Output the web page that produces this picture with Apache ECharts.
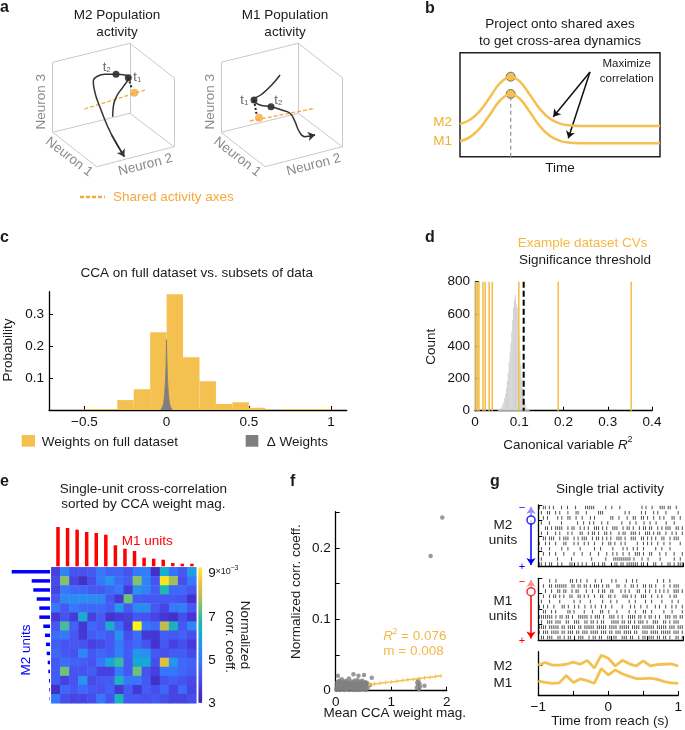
<!DOCTYPE html>
<html lang="en">
<head>
<meta charset="UTF-8">
<title>Cross-area CCA figure</title>
<style>
  * { margin: 0; padding: 0; }
  body { background: #ffffff; }
  #chart { width: 685px; height: 730px; }
</style>
</head>
<body>
<div id="chart"></div>
<script src="https://cdn.jsdelivr.net/npm/echarts@6/dist/echarts.min.js"></script>
<script>
var FONT = 'Liberation Sans';
var YELLOW = '#f4c150';
var ORANGE = '#f6a93b';

// ---- panel a: schematic, page pixel coords ----
var cubeEdges = [
  [[130, 43.3], [130, 113.3]],
  [[52.7, 62.3], [130, 43.3]], [[52.7, 62.3], [52.7, 132.3]], [[52.7, 132.3], [130, 113.3]],
  [[130, 43.3], [174, 77.7]], [[174, 77.7], [174, 146.7]], [[130, 113.3], [174, 146.7]],
  [[52.7, 132.3], [96.7, 166.7]], [[96.7, 166.7], [174, 146.7]]
];
var cubeShift = 168.3;
var trajM2 = [[112.7, 116.7], [113.3, 106.7], [117.3, 95], [123.3, 86.7], [128.3, 77.7], [125, 75], [116, 74.3],
  [105, 74.3], [96.7, 76.7], [93.3, 81], [94, 88.3], [101.7, 111.7], [111.7, 135], [124.3, 156.7]];
var trajM1 = [[280, 75], [271.7, 85], [261.7, 94.3], [254, 100], [260, 105], [271, 106.7], [281.7, 110],
  [290, 113.3], [295, 121.7], [299.3, 131.7], [305, 136.7], [310, 136], [315, 135]];
var timeDots = [[128.3, 77.7], [116, 74.3], [254, 100], [271, 106.7]];
var projDots = [[134.3, 92.7], [259, 117.7]];
var dropM2 = [[128.3, 77.7], [131.7, 88.3]];
var dropM1 = [[254, 100], [256.7, 115]];
var sharedM2 = [[84.3, 109], [145, 90]];
var sharedM1 = [[250, 121], [315, 108.3]];
var sharedKey = [[80, 197], [105, 197]];

// ---- panel b ----
var bTime = [0, 10, 20, 30, 40, 50.7, 60, 70, 80, 90, 100, 110, 120, 200];
var bM2 = [32.7, 36.9, 45.9, 59.5, 73.5, 80, 75, 61.7, 47.6, 37.9, 33.1, 31.3, 30.8, 30.7];
var bM1 = [15.4, 19.6, 28.6, 42.2, 56.2, 62.7, 57.7, 44.4, 30.3, 20.6, 15.8, 14, 13.5, 13.4];
var bPeakT = 50.7;

// ---- panel c ----
var cBinLeft = [-0.5, -0.4, -0.3, -0.2, -0.1, 0, 0.1, 0.2, 0.3, 0.4, 0.5, 0.7, 0.8, 0.9];
var cProb = [0.003, 0.003, 0.031, 0.065, 0.243, 0.362, 0.165, 0.09, 0.019, 0.024, 0.007, 0.003, 0.003, 0.003];
var cBinWidth = 0.1;
var deltaX = [-0.035, -0.025, -0.018, -0.012, -0.006, -0.003, -0.001, 0.001, 0.003, 0.006, 0.012, 0.018, 0.025, 0.035];
var deltaP = [0, 0.01, 0.02, 0.05, 0.1, 0.15, 0.22, 0.22, 0.14, 0.09, 0.045, 0.02, 0.008, 0];

// ---- panel d ----
var dBinStart = 0.05, dBinWidth = 0.002;
var dCounts = [2, 4, 8, 12, 18, 28, 40, 55, 78, 105, 140, 185, 235, 300, 360, 420, 490, 560, 640, 690,
  720, 660, 640, 560, 470, 370, 280, 200, 140, 95, 60, 38, 22, 12, 7, 4, 2];
var dCVs = [0.002, 0.006, 0.009, 0.018, 0.023, 0.032, 0.039, 0.099, 0.188, 0.353];
var dThreshold = 0.11;

// ---- panel e ----
var m1Weights = [39.3, 38.3, 36.6, 34.3, 33.3, 31.6, 21, 17.6, 15.3, 8.6, 7.6, 6.6, 3.3, 2.6, 2.6];
var m2Weights = [38.3, 18.3, 16.7, 13.3, 10.7, 10.7, 6.7, 5, 4, 3.3, 2.3, 1.7, 1, 0.7, 0.4];
var corr = [
  [3.8, 5.2, 4.2, 4.2, 4.3, 4.9, 4.5, 4.5, 4.2, 5.0, 5.1, 3.4, 6.3, 4.8, 4.3, 5.8],
  [4.0, 7.6, 3.9, 3.4, 4.1, 5.0, 5.6, 4.7, 4.4, 7.6, 5.2, 4.2, 9.1, 7.8, 4.1, 5.0],
  [3.9, 4.9, 4.6, 4.6, 4.3, 4.3, 4.6, 4.9, 3.7, 5.6, 5.2, 4.4, 6.8, 4.6, 4.6, 4.3],
  [4.3, 5.4, 5.4, 5.5, 5.4, 5.4, 4.3, 3.6, 7.4, 4.4, 4.3, 4.3, 4.3, 4.3, 4.2, 3.5],
  [4.9, 4.3, 4.9, 4.6, 4.6, 4.6, 4.4, 5.7, 4.3, 5.4, 5.4, 4.3, 3.9, 4.9, 5.1, 4.3],
  [3.6, 4.2, 3.7, 6.3, 3.8, 4.4, 3.5, 3.7, 3.8, 4.3, 4.2, 3.9, 3.6, 3.4, 4.1, 3.6],
  [4.3, 7.1, 4.5, 3.6, 4.6, 4.3, 6.4, 4.6, 3.7, 9.3, 4.9, 4.6, 8.0, 6.5, 4.3, 5.3],
  [4.7, 4.9, 4.3, 3.6, 4.4, 4.6, 4.3, 5.5, 4.1, 4.7, 3.6, 3.6, 4.4, 4.3, 4.5, 4.1],
  [4.4, 4.2, 4.3, 4.2, 3.8, 4.0, 4.3, 5.0, 4.3, 4.6, 4.2, 3.5, 4.3, 3.8, 4.1, 3.7],
  [4.6, 4.3, 4.2, 5.3, 4.3, 4.6, 4.4, 5.1, 4.4, 5.6, 5.5, 4.3, 4.1, 4.4, 4.4, 4.0],
  [4.3, 4.7, 4.5, 4.4, 4.2, 4.9, 6.1, 7.0, 4.3, 6.2, 6.2, 4.1, 8.4, 5.7, 4.6, 4.5],
  [4.4, 7.4, 4.2, 4.2, 4.4, 3.8, 3.8, 5.0, 4.3, 7.4, 4.2, 3.8, 4.9, 4.9, 4.6, 4.4],
  [4.4, 3.8, 4.2, 5.6, 4.0, 4.3, 4.4, 6.6, 4.9, 4.9, 4.3, 3.4, 4.2, 4.4, 4.2, 4.0],
  [3.4, 4.6, 4.3, 4.6, 4.3, 4.2, 4.5, 3.6, 4.4, 3.6, 4.4, 4.1, 4.6, 3.9, 4.6, 3.9],
  [4.9, 4.1, 3.9, 3.9, 4.1, 4.9, 4.2, 6.6, 4.3, 4.3, 4.2, 4.3, 4.1, 3.9, 3.9, 4.1]
];
var parula = ['#3e26a8', '#4538d8', '#4756f2', '#3677fb', '#2a90ef', '#16a8d8', '#1fb8b2', '#6cc27a', '#c4bd4a', '#fbc036', '#f9f617'];

// ---- panel f ----
var fPoints = [
  [0.01, 0.002], [0.02, 0.008], [0.03, 0.012], [0.04, 0.021], [0.05, 0.004], [0.06, 0.010], [0.07, 0.014], [0.08, 0.001],
  [0.09, 0.006], [0.10, 0.011], [0.11, 0.016], [0.12, 0.003], [0.13, 0.009], [0.14, 0.013], [0.15, 0.005], [0.16, 0.001],
  [0.17, 0.011], [0.18, 0.007], [0.19, 0.014], [0.20, 0.003], [0.21, 0.009], [0.22, 0.012], [0.23, 0.005], [0.24, 0.017],
  [0.25, 0.001], [0.26, 0.010], [0.27, 0.007], [0.28, 0.013], [0.29, 0.004], [0.30, 0.011], [0.31, 0.002], [0.32, 0.023],
  [0.33, 0.008], [0.34, 0.014], [0.35, 0.005], [0.36, 0.012], [0.37, 0.001], [0.38, 0.009], [0.39, 0.015], [0.40, 0.004],
  [0.41, 0.021], [0.42, 0.010], [0.43, 0.006], [0.44, 0.013], [0.45, 0.002], [0.46, 0.011], [0.47, 0.007], [0.48, 0.014],
  [0.49, 0.003], [0.50, 0.010], [0.51, 0.022], [0.52, 0.005], [0.53, 0.012], [0.54, 0.001], [0.55, 0.008], [0.56, 0.011],
  [0.57, 0.003], [0.58, 0.006], [0.02, 0.001], [0.05, 0.013], [0.08, 0.009], [0.12, 0.007], [0.15, 0.012], [0.18, 0.002],
  [0.22, 0.006], [0.26, 0.004], [0.29, 0.009], [0.33, 0.001], [0.36, 0.006], [0.40, 0.009], [0.43, 0.001], [0.47, 0.012],
  [0.50, 0.006], [0.54, 0.010], [0.57, 0.009], [0.03, 0.005], [0.10, 0.003], [0.20, 0.010], [0.31, 0.006], [0.38, 0.003],
  [0.45, 0.008], [0.52, 0.002], [0.62, 0.008], [0.65, 0.018], [1.46, 0.004], [1.47, 0.012], [1.48, 0.008], [1.49, 0.015],
  [1.50, 0.002], [1.51, 0.010], [1.52, 0.006], [1.60, 0.007], [1.71, 0.189], [1.92, 0.243]
];
var fitX = [0.6, 0.7, 0.8, 0.9, 1.0, 1.1, 1.2, 1.3, 1.4, 1.5, 1.6, 1.7, 1.8, 1.9];
var fitY = [0.0085, 0.0095, 0.0104, 0.0114, 0.0123, 0.0133, 0.0142, 0.0152, 0.0161, 0.0171, 0.018, 0.019, 0.0199, 0.0209];

// ---- panel g ----
var traceT = [-1, -0.9, -0.8, -0.7, -0.6, -0.5, -0.4, -0.3, -0.2, -0.1, 0, 0.1, 0.2, 0.3, 0.4, 0.5, 0.6, 0.7, 0.8, 0.9, 1];
var m2Trace = [0.69, 0.75, 0.69, 0.69, 0.71, 0.76, 0.71, 0.8, 0.62, 0.92, 0.85, 0.67, 0.8, 0.72, 0.67, 0.79, 0.67, 0.7, 0.71, 0.72, 0.67];
var m1Trace = [0.32, 0.29, 0.27, 0.28, 0.45, 0.29, 0.37, 0.33, 0.27, 0.61, 0.46, 0.58, 0.49, 0.43, 0.38, 0.38, 0.39, 0.36, 0.31, 0.28, 0.27];
var m2Raster = [
  '|.||.|.|...|..|...|....|||||.....|..|...|..........|.|..|...|||.||..|...',
  '.|..||..|.|...|...||...|.....|||..........|.|.....|.|...|.|...|.....|..',
  '..|.|....|.|..||..|..|...|.|.......||..|...|..||..||.|..|..|.|...||..|.',
  '.|...|.....|.......|..|..|.|...|..|......|...|..|...|..|..|....|...|....',
  '...||.|.||||..|.||..|.|.|..|||.|.|..|||..|.||.|..|.||.||..|.|.|||..||.|',
  '.|..|...|.|...|.|...||..|.||.|..||.|...|.||..|||.|..|||.|.||..|..|.|..|',
  '..||.|||..|.|||..|.|.|||..|.||.|.|.|..|||.|..|||..||.|.|.|..||..|.|||..',
  '|..|.|..|...||...|.|..|.|..|...|..||.|..|.|.....|..|.|.|..|..|..|....|.',
  '.|...|.....|..|.....|......|..|.....|....|.|..|.|..|.....|..|...|......',
  '..|..|..|...|....|...|...|...|...|..|.|..|..|..|||.|..||...|..|...|...|',
  '.|.......|......|.........|......|...|||||||||.|...|..|.....|......|..|.',
  '||.|.||..|.|...||..|.|.|..||.|.||....||.||.||||||.||.|..||..|..||.|.|||'
];
var m1Raster = [
  '.....|..|......||.|.|..|...|..|....|.|....|..|.|.........|..|..|......',
  '..|..||.||||||..||.||.||.|.|||.|.||...||..|..||.|..||.||.|...|..|.|||..',
  '...|..|..||.||..|.||...|..|..|.||..||...|.|.|...||..|.|..|.|.|.|..|||.|',
  '..|..|.||.|.|..||..||.|.|..|..||..||.|...|||.|.|..|||..|..|.|...|.||...',
  '.|...|....|......|..|....|.....|...|..|.....|..|....|..|....|....|..|..',
  '|.|.|..|...||.|..|.|..|..|.|..|.|..|....|...|.|..|..|...|.|..|..|.|..|',
  '..||..|.|.....||.|....|...|...||..|...|.....|..|...||..|.....|...|....|',
  '|||||||.|.||.||.|..|||||.|.|||.|..|||.|.|..||||.||.|.||.|.|..|||.||.||',
  '.|..|||.|||..||..|||..||.||.|.||...||||.||.||.|.|||.|..|||..||.|.|||..',
  '||||.|||||.||.||||.||.|||||.|||||.||||.|||||.||||.||||||.|||||.|||.|||',
  '|.|||.||||.||.|||.||.|||.||||.|||.||.|||.||||.||..|||.||||.|||||.|||.|',
  '.||.|||..||.|.||.|.|||..|.||.||..||.||..|||.||..|.||.|||.||.||.|..||.|'
];

// ---------- helpers ----------
function merge(a, b) {
  for (var k in b) {
    if (b[k] && typeof b[k] === 'object' && !Array.isArray(b[k]) && a[k] && typeof a[k] === 'object') merge(a[k], b[k]);
    else a[k] = b[k];
  }
  return a;
}
function valAxis(g, min, max, extra) {
  return merge({
    type: 'value', gridIndex: g, min: min, max: max,
    axisLine: { show: true, onZero: false, lineStyle: { color: '#000', width: 1.3 } },
    axisTick: { show: true, inside: true, length: 4, lineStyle: { color: '#000', width: 1 } },
    axisLabel: { show: true, color: '#111', fontSize: 13.5, fontFamily: FONT, margin: 5 },
    splitLine: { show: false }
  }, extra || {});
}
function hidden(g, type, extra) {
  return merge({ type: type, gridIndex: g, show: false }, extra || {});
}
function minus(v) { return String(v).replace('-', '\u2212'); }
function zip(xs, ys) { return xs.map(function (x, i) { return [x, ys[i]]; }); }
function rasterPoints(rows) {
  var pts = [];
  rows.forEach(function (s, r) {
    for (var i = 0; i < s.length; i++) {
      if (s[i] === '|') pts.push([-1 + (i + 0.5) * 2 / s.length, rows.length - 0.5 - r]);
    }
  });
  return pts;
}
function T(x, y, text, o) {
  o = o || {};
  return {
    type: 'text', x: x, y: y, rotation: o.rot || 0, z: 100,
    style: {
      text: text, fill: o.color || '#1a1a1a', fontSize: o.size || 13.5, fontFamily: FONT,
      fontWeight: o.weight || 'normal', fontStyle: o.italic ? 'italic' : 'normal',
      align: o.align || 'center', verticalAlign: 'middle', rich: o.rich
    }
  };
}
function segs(list, color, width, extra) {
  return merge({
    type: 'lines', coordinateSystem: 'cartesian2d', xAxisIndex: 0, yAxisIndex: 0, silent: true,
    lineStyle: { color: color, width: width, opacity: 1 },
    data: list.map(function (s) { return { coords: s }; })
  }, extra || {});
}
function sketchLine(pts, color, width, type, smooth) {
  return {
    type: 'line', xAxisIndex: 0, yAxisIndex: 0, data: pts, smooth: smooth || false, symbol: 'none', silent: true,
    lineStyle: { color: color, width: width, type: type || 'solid' }
  };
}

// ---------- grids & axes ----------
var grids = [
  { left: 0, top: 0, width: 685, height: 730 },                 // 0 sketch
  { left: 460, top: 52.7, width: 200, height: 104, show: true, borderColor: '#222', borderWidth: 1.5 }, // 1 b
  { left: 49, top: 291.7, width: 297.7, height: 118.3 },       // 2 c
  { left: 475, top: 281.7, width: 177, height: 129 },          // 3 d
  { left: 51.3, top: 567.3, width: 145, height: 136 },          // 4 e heat
  { left: 53.2, top: 526.3, width: 143.5, height: 40 },         // 5 e red bars
  { left: 10, top: 567.3, width: 40, height: 136 },             // 6 e blue bars
  { left: 198.3, top: 567.3, width: 4, height: 136 },           // 7 colorbar labels
  { left: 335.7, top: 511.7, width: 111, height: 179 },         // 8 f
  { left: 538.3, top: 505, width: 145, height: 61.7 },          // 9 g M2 raster
  { left: 538.3, top: 578.3, width: 145, height: 61.7 },        // 10 g M1 raster
  { left: 538.3, top: 651.7, width: 145, height: 43.3 }         // 11 g traces
];

var xAxes = [
  hidden(0, 'value', { min: 0, max: 685 }),
  hidden(1, 'value', { min: 0, max: 200 }),
  valAxis(2, -0.715, 1.095, { axisLabel: { customValues: [-0.5, 0, 0.5, 1], formatter: minus }, axisTick: { customValues: [-0.5, 0, 0.5, 1] } }),
  valAxis(3, 0, 0.4, { interval: 0.1 }),
  hidden(4, 'category', { data: corr[0].map(function (_, i) { return i; }) }),
  hidden(5, 'category', { data: m1Weights.map(function (_, i) { return i; }) }),
  hidden(6, 'value', { min: 0, max: 40, inverse: true }),
  hidden(7, 'value', { min: 0, max: 1 }),
  valAxis(8, 0, 2, { interval: 0.5, axisLabel: { customValues: [0, 1, 2] } }),
  valAxis(9, -1, 1, { interval: 0.5, axisLabel: { show: false } }),
  valAxis(10, -1, 1, { interval: 0.5, axisLabel: { show: false } }),
  valAxis(11, -1, 1, { axisTick: { customValues: [-1, -0.5, 0, 0.5, 1] }, axisLabel: { customValues: [-1, 0, 1], formatter: minus } })
];
var yAxes = [
  hidden(0, 'value', { min: 0, max: 730, inverse: true }),
  hidden(1, 'value', { min: 0, max: 104 }),
  valAxis(2, 0, 0.37, { axisLabel: { customValues: [0.1, 0.2, 0.3] }, axisTick: { customValues: [0.1, 0.2, 0.3] } }),
  valAxis(3, 0, 800, { interval: 200 }),
  hidden(4, 'category', { data: corr.map(function (_, i) { return i; }), inverse: true }),
  hidden(5, 'value', { min: 0, max: 40 }),
  hidden(6, 'category', { data: m2Weights.map(function (_, i) { return i; }), inverse: true }),
  valAxis(7, 3, 9.3, { position: 'right', axisLine: { show: false }, axisTick: { show: false }, axisLabel: { customValues: [3, 5, 7, 9], margin: 6 } }),
  valAxis(8, 0, 0.251, { axisTick: { customValues: [0, 0.05, 0.1, 0.15, 0.2, 0.25] }, axisLabel: { customValues: [0, 0.1, 0.2] } }),
  valAxis(9, 0, 12, { interval: 3, axisLabel: { show: false } }),
  valAxis(10, 0, 12, { interval: 3, axisLabel: { show: false } }),
  valAxis(11, 0, 1, { axisTick: { customValues: [0.31, 0.69] }, axisLabel: { show: false } })
];

// ---------- series ----------
var allEdges = cubeEdges.concat(cubeEdges.map(function (s) {
  return s.map(function (p) { return [p[0] + cubeShift, p[1]]; });
}));
var heatData = [];
corr.forEach(function (row, r) { row.forEach(function (v, c) { heatData.push([c, r, v]); }); });

var series = [
  // panel a
  segs(allEdges, '#c9c9c9', 1),
  sketchLine(sharedM2, ORANGE, 1.3, [4, 2]),
  sketchLine(sharedM1, ORANGE, 1.3, [4, 2]),
  sketchLine(sharedKey, ORANGE, 2.5, [4, 2]),
  sketchLine(trajM2, '#333', 1.5, 'solid', 0.5),
  sketchLine(trajM1, '#333', 1.5, 'solid', 0.5),
  segs([trajM2.slice(-2), trajM1.slice(-2)], '#333', 1.5, { symbol: ['none', 'arrow'], symbolSize: 7 }),
  sketchLine(dropM2, '#222', 2, 'dotted'),
  sketchLine(dropM1, '#222', 2, 'dotted'),
  { type: 'scatter', xAxisIndex: 0, yAxisIndex: 0, data: timeDots, symbolSize: 7, itemStyle: { color: '#111' }, silent: true },
  { type: 'scatter', xAxisIndex: 0, yAxisIndex: 0, data: projDots, symbolSize: 8, itemStyle: { color: ORANGE }, silent: true },
  // panel b
  { type: 'line', xAxisIndex: 1, yAxisIndex: 1, data: zip(bTime, bM2), smooth: 0.4, symbol: 'none', lineStyle: { color: YELLOW, width: 2.5 } },
  { type: 'line', xAxisIndex: 1, yAxisIndex: 1, data: zip(bTime, bM1), smooth: 0.4, symbol: 'none', lineStyle: { color: YELLOW, width: 2.5 } },
  { type: 'line', xAxisIndex: 1, yAxisIndex: 1, data: [[bPeakT, 0], [bPeakT, bM1[5]]], symbol: 'none', lineStyle: { color: '#999', width: 1.3, type: [4, 3] } },
  { type: 'scatter', xAxisIndex: 1, yAxisIndex: 1, data: [[bPeakT, bM2[5]], [bPeakT, bM1[5]]], symbolSize: 9, itemStyle: { color: '#f0b030', borderColor: '#555', borderWidth: 1 } },
  { type: 'lines', coordinateSystem: 'cartesian2d', xAxisIndex: 1, yAxisIndex: 1, symbol: ['none', 'arrow'], symbolSize: 7,
    lineStyle: { color: '#111', width: 1.5, opacity: 1 },
    data: [{ coords: [[130, 84.7], [93.3, 40]] }, { coords: [[130, 84.7], [108.3, 18.4]] }] },
  // panel c
  { type: 'custom', xAxisIndex: 2, yAxisIndex: 2, data: zip(cBinLeft, cProb),
    renderItem: function (p, api) {
      var a = api.coord([api.value(0), api.value(1)]), b = api.coord([api.value(0) + cBinWidth, 0]);
      return { type: 'rect', shape: { x: a[0], y: a[1], width: b[0] - a[0], height: b[1] - a[1] }, style: { fill: YELLOW } };
    } },
  { type: 'line', xAxisIndex: 2, yAxisIndex: 2, data: zip(deltaX, deltaP), symbol: 'none',
    lineStyle: { color: '#7f7f7f', width: 0.8 }, areaStyle: { color: '#7f7f7f', opacity: 1 } },
  // panel d
  { type: 'custom', xAxisIndex: 3, yAxisIndex: 3, data: dCounts.map(function (c, i) { return [dBinStart + i * dBinWidth, c]; }),
    renderItem: function (p, api) {
      var a = api.coord([api.value(0), api.value(1)]), b = api.coord([api.value(0) + dBinWidth, 0]);
      return { type: 'rect', shape: { x: a[0], y: a[1], width: b[0] - a[0] + 0.3, height: b[1] - a[1] }, style: { fill: '#d3d3d3' } };
    } },
  { type: 'custom', xAxisIndex: 3, yAxisIndex: 3, data: dCVs.map(function (v) { return [v, 800]; }),
    renderItem: function (p, api) {
      var a = api.coord([api.value(0), 800]), b = api.coord([api.value(0), 0]);
      return { type: 'line', shape: { x1: a[0], y1: a[1], x2: b[0], y2: b[1] }, style: { stroke: YELLOW, lineWidth: 1.6 } };
    } },
  { type: 'custom', xAxisIndex: 3, yAxisIndex: 3, data: [[dThreshold, 800]], z: 5,
    renderItem: function (p, api) {
      var a = api.coord([api.value(0), 800]), b = api.coord([api.value(0), 0]);
      return { type: 'line', shape: { x1: a[0], y1: a[1], x2: b[0], y2: b[1] }, style: { stroke: '#000', lineWidth: 2, lineDash: [6, 3] } };
    } },
  // panel e
  { type: 'heatmap', xAxisIndex: 4, yAxisIndex: 4, data: heatData, itemStyle: { borderWidth: 0 } },
  { type: 'bar', xAxisIndex: 5, yAxisIndex: 5, data: m1Weights, barWidth: 3.5, itemStyle: { color: '#ff0000' } },
  { type: 'bar', xAxisIndex: 6, yAxisIndex: 6, data: m2Weights, barWidth: 3.5, itemStyle: { color: '#0000ff' } },
  // panel f
  { type: 'scatter', xAxisIndex: 8, yAxisIndex: 8, data: fPoints, symbolSize: 4.5, itemStyle: { color: '#808080' } },
  { type: 'line', xAxisIndex: 8, yAxisIndex: 8, data: zip(fitX, fitY), symbol: 'rect', symbolSize: [1, 4], showSymbol: true,
    itemStyle: { color: YELLOW }, lineStyle: { color: YELLOW, width: 1.5 } },
  // panel g
  { type: 'scatter', xAxisIndex: 9, yAxisIndex: 9, data: rasterPoints(m2Raster), symbol: 'rect', symbolSize: [1, 3.6], itemStyle: { color: '#222' } },
  { type: 'scatter', xAxisIndex: 10, yAxisIndex: 10, data: rasterPoints(m1Raster), symbol: 'rect', symbolSize: [1, 3.6], itemStyle: { color: '#222' } },
  { type: 'line', xAxisIndex: 11, yAxisIndex: 11, data: zip(traceT, m2Trace), symbol: 'none', lineStyle: { color: YELLOW, width: 2.8 } },
  { type: 'line', xAxisIndex: 11, yAxisIndex: 11, data: zip(traceT, m1Trace), symbol: 'none', lineStyle: { color: YELLOW, width: 2.8 } },
  segs([[[531, 520], [531, 565]]], '#0000ff', 1.5, { symbol: ['none', 'arrow'], symbolSize: 7 }),
  segs([[[531, 516], [531, 507]]], '#8c8cff', 1.5, { symbol: ['none', 'arrow'], symbolSize: 7 }),
  segs([[[531, 596], [531, 638.5]]], '#ff0000', 1.5, { symbol: ['none', 'arrow'], symbolSize: 7 }),
  segs([[[531, 588], [531, 580]]], '#ff9090', 1.5, { symbol: ['none', 'arrow'], symbolSize: 7 }),
  { type: 'scatter', xAxisIndex: 0, yAxisIndex: 0, data: [[531, 520]], symbol: 'circle', symbolSize: 8,
    itemStyle: { color: '#fff', borderColor: '#0000ff', borderWidth: 1.6 }, z: 6 },
  { type: 'scatter', xAxisIndex: 0, yAxisIndex: 0, data: [[531, 591.7]], symbol: 'circle', symbolSize: 8,
    itemStyle: { color: '#fff', borderColor: '#ff0000', borderWidth: 1.6 }, z: 6 }
];
var heatIndex = series.findIndex(function (s) { return s.type === 'heatmap'; });

// ---------- texts ----------
var gray = '#8a8a8a';
var sub = { a: { fontSize: 13, fontFamily: FONT, fill: '#666' }, b: { fontSize: 8, fontFamily: FONT, fill: '#666', verticalAlign: 'bottom' } };
var fitColor = '#f0b94a';
var texts = [
  T(0, 8, 'a', { size: 16, weight: 'bold', align: 'left' }),
  T(117, 15.5, 'M2 Population'), T(117, 32, 'activity'),
  T(285, 15.5, 'M1 Population'), T(285, 32, 'activity'),
  T(41.7, 101.7, 'Neuron 3', { color: gray, rot: Math.PI / 2 }),
  T(69, 157, 'Neuron 1', { color: gray, rot: -0.66 }),
  T(145.5, 165, 'Neuron 2', { color: gray, rot: 0.25 }),
  T(41.7 + cubeShift, 101.7, 'Neuron 3', { color: gray, rot: Math.PI / 2 }),
  T(69 + cubeShift, 157, 'Neuron 1', { color: gray, rot: -0.66 }),
  T(145.5 + cubeShift, 165, 'Neuron 2', { color: gray, rot: 0.25 }),
  T(106.7, 67, '{a|t}{b|2}', { rich: sub }),
  T(137.3, 77, '{a|t}{b|1}', { rich: sub }),
  T(244.3, 100, '{a|t}{b|1}', { rich: sub }),
  T(278.3, 100, '{a|t}{b|2}', { rich: sub }),
  T(113, 197, 'Shared activity axes', { color: ORANGE, align: 'left' }),

  T(425, 9, 'b', { size: 16, weight: 'bold', align: 'left' }),
  T(560, 24, 'Project onto shared axes'), T(560, 41, 'to get cross-area dynamics'),
  T(626.7, 63.5, 'Maximize', { size: 11.5 }), T(626.7, 78.5, 'correlation', { size: 11.5 }),
  T(452, 122, 'M2', { color: '#f0b030', align: 'right' }),
  T(452, 141.7, 'M1', { color: '#f0b030', align: 'right' }),
  T(560, 168, 'Time'),

  T(0, 238, 'c', { size: 16, weight: 'bold', align: 'left' }),
  T(196.7, 273.3, 'CCA on full dataset vs. subsets of data'),
  T(8.3, 350, 'Probability', { rot: Math.PI / 2 }),
  T(41.7, 442, 'Weights on full dataset', { align: 'left' }),
  T(266.7, 442, '\u0394 Weights', { align: 'left' }),

  T(425, 238, 'd', { size: 16, weight: 'bold', align: 'left' }),
  T(582.7, 243.3, 'Example dataset CVs', { color: '#f5b841' }),
  T(585, 260.7, 'Significance threshold'),
  T(431.7, 346.7, 'Count', { rot: Math.PI / 2 }),
  T(618, 445, 'Canonical variable ', { align: 'right' }),
  T(618, 445, 'R', { align: 'left', italic: true }),
  T(627.5, 440, '2', { align: 'left', size: 9 }),

  T(0, 482, 'e', { size: 16, weight: 'bold', align: 'left' }),
  T(143.3, 489, 'Single-unit cross-correlation'),
  T(143.3, 504.3, 'sorted by CCA weight mag.'),
  T(121.7, 541, 'M1 units', { color: '#ff0000', align: 'left' }),
  T(26.7, 650, 'M2 units', { color: '#0000ff', rot: Math.PI / 2 }),
  T(215.5, 572, '\u00d710', { align: 'left', size: 9 }),
  T(230.5, 568.5, '\u22123', { align: 'left', size: 7 }),
  T(230, 641.7, 'corr. coeff.', { rot: -Math.PI / 2 }),
  T(245, 635, 'Normalized', { rot: -Math.PI / 2 }),

  T(290, 482, 'f', { size: 16, weight: 'bold', align: 'left' }),
  T(296.7, 591.7, 'Normalized corr. coeff.', { rot: Math.PI / 2 }),
  T(394.7, 713.3, 'Mean CCA weight mag.'),
  T(383.3, 636.7, 'R', { align: 'left', italic: true, color: fitColor }),
  T(392.5, 631.5, '2', { align: 'left', size: 9, color: fitColor }),
  T(401, 636.7, '= 0.076', { align: 'left', color: fitColor }),
  T(383.3, 651.7, 'm = 0.008', { align: 'left', color: fitColor }),

  T(490, 482, 'g', { size: 16, weight: 'bold', align: 'left' }),
  T(610, 489, 'Single trial activity'),
  T(503, 525, 'M2'), T(503, 540, 'units'),
  T(503, 601.7, 'M1'), T(503, 616.7, 'units'),
  T(503, 666, 'M2'), T(503, 683.3, 'M1'),
  T(610, 721.7, 'Time from reach (s)'),
  T(522, 507.7, '\u2212', { color: '#0000ff', size: 11 }), T(522, 567, '+', { color: '#0000ff', size: 11 }),
  T(522, 581.5, '\u2212', { color: '#ff0000', size: 11 }), T(522, 640.5, '+', { color: '#ff0000', size: 11 }),

  { type: 'rect', shape: { x: 21.7, y: 435, width: 13.3, height: 11.7 }, style: { fill: YELLOW } },
  { type: 'rect', shape: { x: 245.7, y: 435, width: 12.6, height: 11.7 }, style: { fill: '#7f7f7f' } }
];

var chart = echarts.init(document.getElementById('chart'));
chart.setOption({
  animation: false,
  backgroundColor: '#ffffff',
  textStyle: { fontFamily: FONT },
  grid: grids,
  xAxis: xAxes,
  yAxis: yAxes,
  visualMap: [{
    type: 'continuous', seriesIndex: heatIndex, dimension: 2, min: 3, max: 9.3,
    orient: 'vertical', left: 198.3, top: 567.3, itemWidth: 4, itemHeight: 136, padding: 0,
    calculable: false, hoverLink: false, inRange: { color: parula }
  }],
  series: series,
  graphic: texts
});
</script>
</body>
</html>
